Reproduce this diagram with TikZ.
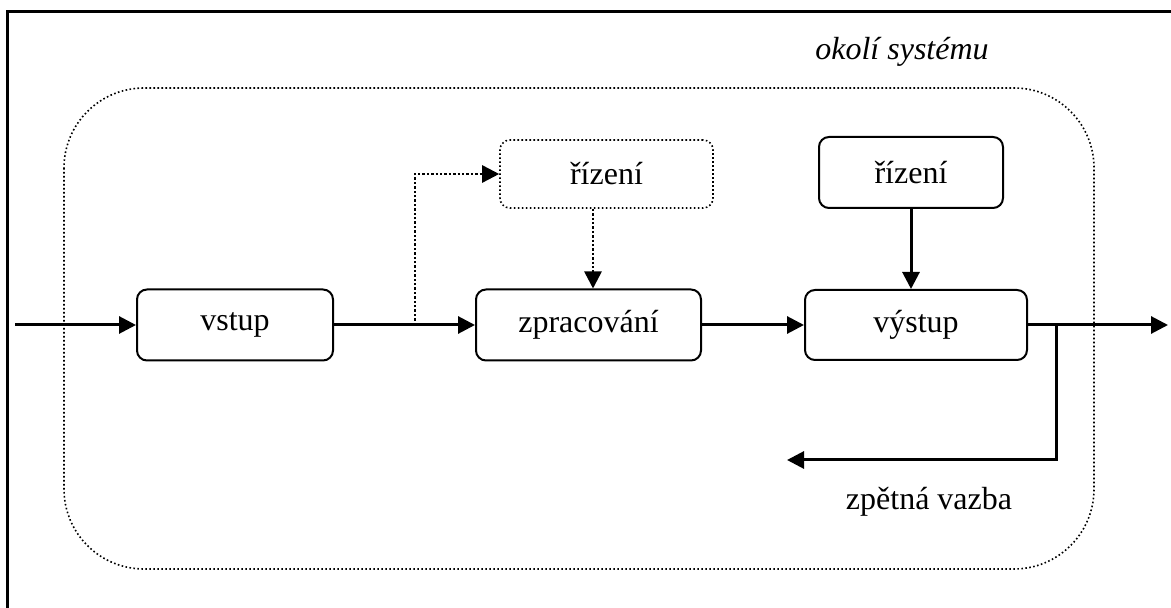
\documentclass[tikz,border=0pt]{standalone}
\usepackage{fontspec}
\setmainfont{Liberation Serif}
\usetikzlibrary{arrows.meta,calc}
\begin{document}
\begin{tikzpicture}[x=0.5pt,y=-0.5pt,
  font=\fontsize{16}{19}\selectfont,
  block/.style={draw,line width=1pt,rounded corners=5pt,inner sep=0pt},
  dotblock/.style={block,line width=0.8pt,dash pattern=on 0.8pt off 1.2pt},
  tip/.style={-{Triangle[length=8.5pt,width=8.5pt]}},
  arr/.style={line width=1.5pt,tip},
  dotarr/.style={line width=1.3pt,dash pattern=on 1.2pt off 1pt,tip},
  frame/.style={line width=1.5pt},
  env/.style={line width=0.8pt,dash pattern=on 0.8pt off 1.2pt,rounded corners=40pt}]
  \useasboundingbox (0,0) rectangle (1171,608);

  % outer frame (top and left edges)
  \draw[frame] (7,608) -- (7,12) -- (1171,12);

  % system surroundings
  \draw[env] (64,88) rectangle (1094,569);
  \node[font=\fontsize{16}{19}\selectfont\itshape] (okoli) at (902,52) {okolí systému};

  % blocks
  \node[block,minimum width=98pt,minimum height=35.5pt] (vstup) at (235,325) {vstup};
  \node[block,minimum width=112.5pt,minimum height=35.5pt] (zprac) at (588.5,325) {zpracování};
  \node[block,minimum width=111pt,minimum height=35pt] (vystup) at (916,325) {výstup};
  \node[dotblock,minimum width=106.5pt,minimum height=34pt] (rizA) at (606.5,174) {řízení};
  \node[block,minimum width=92pt,minimum height=35.5pt] (rizB) at (911,172.5) {řízení};

  % free ends of connectors
  \coordinate (in) at (15,325);
  \coordinate (br) at (415,325);
  \coordinate (out) at (1168,325);
  \coordinate (fb) at (1056,325);
  \coordinate (fbend) at (787,460);

  % connectors
  \draw[arr] (in) -- (vstup.west);
  \draw[arr] (vstup.east) -- (zprac.west);
  \draw[arr] (zprac.east) -- (vystup.west);
  \draw[arr] (vystup.east) -- (out);
  \draw[dotarr] (br) |- (rizA.west);
  \draw[dotarr] ([xshift=-6.75pt]rizA.south) -- ([xshift=-6.75pt]rizA.south |- zprac.north);
  \draw[arr] (rizB.south) -- (rizB.south |- vystup.north);
  \draw[arr] (fb) |- (fbend);

  \node (zv) at (929,502) {zpětná vazba};
\end{tikzpicture}
\end{document}
